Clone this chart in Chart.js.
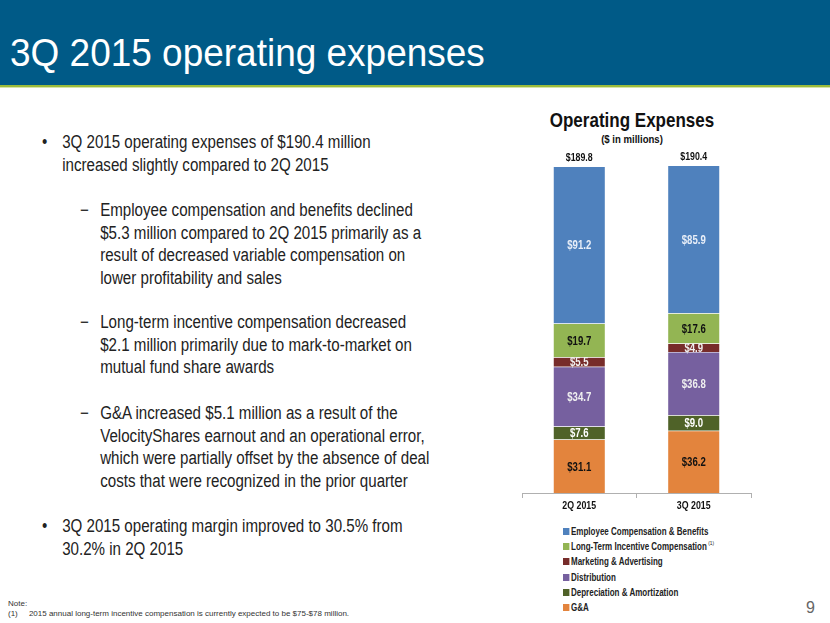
<!DOCTYPE html>
<html lang="en">
<head>
<meta charset="UTF-8">
<title>3Q 2015 operating expenses</title>
<script src="https://cdn.jsdelivr.net/npm/chart.js"></script>
<style>
  body { margin: 0; width: 830px; height: 623px; position: relative; overflow: hidden; background: #fff;
         font-family: "Liberation Sans", Arial, sans-serif; }
  .header { position: absolute; left: 0; top: 0; width: 830px; height: 85px; background: #005a87; }
  .header .line { position: absolute; left: 0; top: 85px; width: 830px; height: 2px; background: #9bbb3b; }
  .header .line2 { position: absolute; left: 0; top: 87px; width: 830px; height: 1px; background: #d6e4a8; }
  .header h1 { position: absolute; left: 10px; top: 31px; margin: 0; font-weight: normal; font-size: 39px; color: #fff;
               white-space: nowrap; transform: scaleX(0.948); transform-origin: 0 0; }
  /* condensed text: no narrow face installed, so squeeze horizontally */
  .nb { position: absolute; white-space: nowrap; transform: scaleX(0.84); transform-origin: 0 0;
        color: #222; font-size: 18px; line-height: 22.6px; }
  .nb .m { position: absolute; left: 0; }
  .nb .t { padding-left: 24px; }
  .ctitle { position: absolute; left: 500px; width: 264px; text-align: center; font-weight: bold; color: #111; white-space: nowrap; }
  #chartBox { position: absolute; left: 519px; top: 149px; width: 236px; height: 370px; }
  .legend { position: absolute; left: 563px; top: 526px; font-weight: bold; font-size: 10px; color: #222;
            transform: scaleX(0.8); transform-origin: 0 0; }
  .legend div { height: 15.2px; line-height: 12px; white-space: nowrap; }
  .legend span.sw { display: inline-block; width: 8px; height: 7px; margin-right: 2px; vertical-align: 0px; }
  .legend sup { font-size: 6px; font-weight: normal; line-height: 0; vertical-align: 5px; }
  .note { position: absolute; left: 8px; top: 599px; font-size: 8px; color: #333; line-height: 10px; }
  .page { position: absolute; left: 806px; top: 599px; font-size: 16px; color: #666; }
</style>
</head>
<body>
<div class="header"><h1>3Q 2015 operating expenses</h1><div class="line"></div><div class="line2"></div></div>

<div class="nb" style="left:42px;top:131px"><span class="m">&#8226;</span><div class="t">3Q 2015 operating expenses of $190.4 million<br>increased slightly compared to 2Q 2015</div></div>
<div class="nb" style="left:80px;top:199px"><span class="m">&#8722;</span><div class="t">Employee compensation and benefits declined<br>$5.3 million compared to 2Q 2015 primarily as a<br>result of decreased variable compensation on<br>lower profitability and sales</div></div>
<div class="nb" style="left:80px;top:311px"><span class="m">&#8722;</span><div class="t">Long-term incentive compensation decreased<br>$2.1 million primarily due to mark-to-market on<br>mutual fund share awards</div></div>
<div class="nb" style="left:80px;top:402px"><span class="m">&#8722;</span><div class="t">G&amp;A increased $5.1 million as a result of the<br>VelocityShares earnout and an operational error,<br>which were partially offset by the absence of deal<br>costs that were recognized in the prior quarter</div></div>
<div class="nb" style="left:42px;top:515px"><span class="m">&#8226;</span><div class="t">3Q 2015 operating margin improved to 30.5% from<br>30.2% in 2Q 2015</div></div>

<div class="ctitle" style="top:108px;font-size:21px;transform:scaleX(0.81);">Operating Expenses</div>
<div class="ctitle" style="top:133px;font-size:11px;transform:scaleX(0.87);">($ in millions)</div>

<div id="chartBox"><canvas id="opexChart"></canvas></div>

<div class="legend" id="legend"></div>

<div class="note">Note:<br>(1)&nbsp;&nbsp;&nbsp;&nbsp;&nbsp;2015 annual long-term incentive compensation is currently expected to be $75-$78 million.</div>
<div class="page">9</div>

<script>
// categories and series (bottom to top of the stack)
const quarters = ['2Q 2015', '3Q 2015'];
const totals = ['$189.8', '$190.4'];

const gaValues = [31.1, 36.2];
const deprValues = [7.6, 9.0];
const distValues = [34.7, 36.8];
const mktgValues = [5.5, 4.9];
const ltiValues = [19.7, 17.6];
const empValues = [91.2, 85.9];

const seriesNames = ['G&A', 'Depreciation & Amortization', 'Distribution', 'Marketing & Advertising',
                     'Long-Term Incentive Compensation', 'Employee Compensation & Benefits'];
const seriesColors = ['#e3843d', '#4f6228', '#76609f', '#772c2a', '#93b553', '#4f81bd'];
const labelColors = ['#111', '#fff', '#f0f0f0', '#f0f0f0', '#111', '#e8eef8'];
const seriesData = [gaValues, deprValues, distValues, mktgValues, ltiValues, empValues];

// legend, top item = top of stack
const legendEl = document.getElementById('legend');
for (let i = seriesNames.length - 1; i >= 0; i--) {
    const row = document.createElement('div');
    row.innerHTML = '<span class="sw" style="background:' + seriesColors[i] + '"></span>' +
        seriesNames[i].replace('&', '&amp;') + (i === 4 ? '<sup> (1)</sup>' : '');
    legendEl.appendChild(row);
}

function narrowText(ctx, text, x, y, sx) {
    ctx.save();
    ctx.translate(x, y);
    ctx.scale(sx, 1);
    ctx.fillText(text, 0, 0);
    ctx.restore();
}

// $ labels inside the segments, totals above the bars, category labels under the axis
const valueLabels = {
    id: 'valueLabels',
    afterDatasetsDraw(chart) {
        const ctx = chart.ctx;
        ctx.save();
        ctx.textAlign = 'center';
        ctx.textBaseline = 'middle';
        ctx.font = 'bold 12px "Liberation Sans", Arial';
        chart.data.datasets.forEach((ds, i) => {
            chart.getDatasetMeta(i).data.forEach((bar, j) => {
                ctx.fillStyle = labelColors[i];
                narrowText(ctx, '$' + ds.data[j].toFixed(1), bar.x, (bar.y + bar.base) / 2 + 1, 0.8);
            });
        });
        const top = chart.getDatasetMeta(chart.data.datasets.length - 1).data;
        ctx.fillStyle = '#111';
        ctx.font = 'bold 11px "Liberation Sans", Arial';
        top.forEach((bar, j) => narrowText(ctx, totals[j], bar.x, bar.y - 9, 0.8));
        const xs = chart.scales.x;
        quarters.forEach((q, j) => narrowText(ctx, q, xs.getPixelForValue(j), xs.top + 13, 0.8));
        ctx.restore();
    }
};

new Chart(document.getElementById('opexChart'), {
    type: 'bar',
    data: {
        labels: quarters,
        datasets: seriesData.map((d, i) => ({
            label: seriesNames[i],
            data: d,
            backgroundColor: seriesColors[i],
            borderColor: 'rgba(255,255,255,0.5)',
            borderWidth: 0.5,
            categoryPercentage: 1,
            barPercentage: 0.455
        }))
    },
    options: {
        responsive: true,
        maintainAspectRatio: false,
        animation: false,
        layout: { padding: { left: 3, right: 4, top: 0, bottom: 0 } },
        plugins: { legend: { display: false }, tooltip: { enabled: false } },
        scales: {
            x: {
                stacked: true,
                grid: { drawOnChartArea: false, tickLength: 5, color: '#b0b0b0', offset: true },
                border: { color: '#b0b0b0' },
                ticks: { display: false },
                afterFit(scale) { scale.height = 26; }
            },
            y: {
                stacked: true,
                display: false,
                min: 0,
                max: 200
            }
        }
    },
    plugins: [valueLabels]
});
</script>
</body>
</html>
